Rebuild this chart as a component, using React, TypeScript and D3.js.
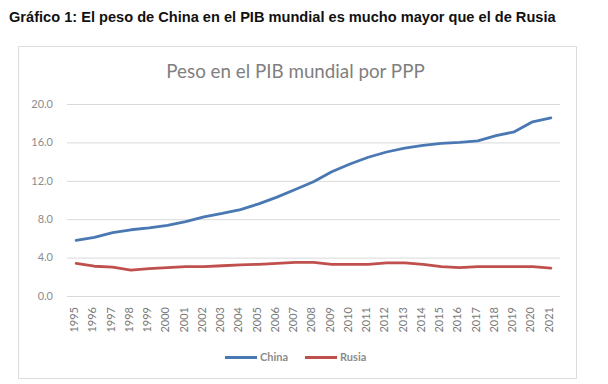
import * as d3 from "d3";

const years = [
  "1995", "1996", "1997", "1998", "1999", "2000", "2001", "2002", "2003",
  "2004", "2005", "2006", "2007", "2008", "2009", "2010", "2011", "2012",
  "2013", "2014", "2015", "2016", "2017", "2018", "2019", "2020", "2021",
];

const china = [
  5.8, 6.1, 6.6, 6.9, 7.1, 7.35, 7.75, 8.25, 8.6, 9.0, 9.6, 10.3, 11.1, 11.9,
  12.95, 13.75, 14.45, 15.0, 15.4, 15.7, 15.9, 16.0, 16.15, 16.7, 17.1, 18.15, 18.55,
];

const rusia = [
  3.4, 3.1, 3.0, 2.7, 2.85, 2.95, 3.05, 3.05, 3.15, 3.25, 3.3, 3.4, 3.5, 3.5,
  3.3, 3.3, 3.3, 3.45, 3.45, 3.3, 3.05, 2.95, 3.05, 3.05, 3.05, 3.05, 2.9,
];

const yTicks = [0, 4, 8, 12, 16, 20];

const series = [
  { name: "China", values: china, color: "#4a78b2" },
  { name: "Rusia", values: rusia, color: "#c0504d" },
];

const width = 608;
const height = 384;
const marginLeft = 67;
const marginRight = 48;
const plotTop = 104;
const plotBottom = 296;

export default function App() {
  const x = d3.scaleBand<string>()
    .domain(years)
    .range([marginLeft, width - marginRight]);

  const y = d3.scaleLinear()
    .domain([0, 20])
    .range([plotBottom, plotTop]);

  const line = d3.line<number>()
    .x((_, i) => (x(years[i]) ?? 0) + x.bandwidth() / 2)
    .y(d => y(d))
    .curve(d3.curveLinear);

  const axisFont = "Lato, 'Noto Sans', sans-serif";

  return (
    <svg
      width={width}
      height={height}
      style={{ position: "absolute", left: 0, top: 0, background: "#fff" }}
    >
      <text
        x={9}
        y={22}
        fontFamily="'Liberation Sans', Arial, sans-serif"
        fontWeight="bold"
        fontSize={14.6}
        fill="#111"
      >
        Gráfico 1: El peso de China en el PIB mundial es mucho mayor que el de Rusia
      </text>

      <rect
        x={18.5}
        y={46.5}
        width={558}
        height={332}
        fill="#fff"
        stroke="#dcdcdc"
        strokeWidth={1}
      />

      <text
        x={295.5}
        y={78}
        textAnchor="middle"
        fontFamily={axisFont}
        fontSize={18.8}
        fill="#7f7f7f"
      >
        Peso en el PIB mundial por PPP
      </text>

      <g>
        {yTicks.map(t => (
          <g key={t}>
            <line
              x1={marginLeft}
              x2={width - marginRight}
              y1={y(t) + 0.5}
              y2={y(t) + 0.5}
              stroke="#d9d9d9"
              strokeWidth={1}
            />
            <text
              x={53}
              y={y(t)}
              dy="0.35em"
              textAnchor="end"
              fontFamily={axisFont}
              fontSize={11}
              fill="#8c8c8c"
            >
              {t.toFixed(1)}
            </text>
          </g>
        ))}
      </g>

      <g>
        {years.map(yr => {
          const cx = (x(yr) ?? 0) + x.bandwidth() / 2 - 2;
          return (
            <text
              key={yr}
              transform={`translate(${cx},307) rotate(-90)`}
              dy="0.35em"
              textAnchor="end"
              fontFamily={axisFont}
              fontSize={11}
              fill="#7a7a7a"
            >
              {yr}
            </text>
          );
        })}
      </g>

      {series.map(s => (
        <path
          key={s.name}
          d={line(s.values) ?? ""}
          fill="none"
          stroke={s.color}
          strokeWidth={2.8}
          strokeLinejoin="round"
          strokeLinecap="round"
        />
      ))}

      <g fontFamily={axisFont} fontSize={11} fontWeight="bold" fill="#8c8c8c">
        <line x1={225} x2={257} y1={357.5} y2={357.5} stroke={series[0].color} strokeWidth={3} />
        <text x={260} y={357.5} dy="0.35em">{series[0].name}</text>
        <line x1={305} x2={337} y1={357.5} y2={357.5} stroke={series[1].color} strokeWidth={3} />
        <text x={340} y={357.5} dy="0.35em">{series[1].name}</text>
      </g>
    </svg>
  );
}
